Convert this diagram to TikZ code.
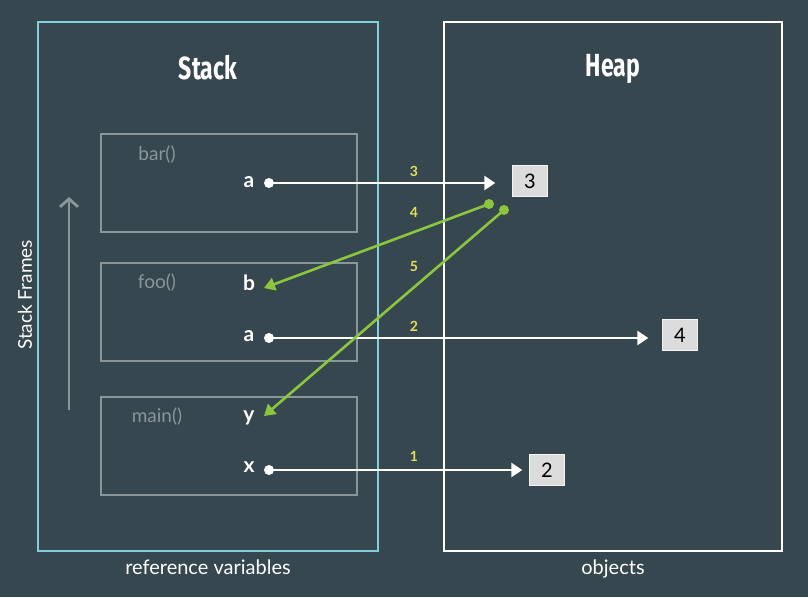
\documentclass[tikz,border=0pt]{standalone}
\usepackage{fontspec}
\setmainfont{Lato}
\newfontfamily\titlefont[FakeStretch=0.72]{Fira Sans}
\usetikzlibrary{arrows.meta}
\definecolor{bgslate}{HTML}{37474F}
\definecolor{stackcyan}{HTML}{7FD0D8}
\definecolor{framegray}{HTML}{8A9699}
\definecolor{refgreen}{HTML}{8CC63F}
\definecolor{stepyellow}{HTML}{E6DF5A}
\definecolor{objgray}{HTML}{DCDCDC}
\tikzset{
  frame/.style={draw=framegray, line width=1.6pt},
  fname/.style={text=framegray, font=\fontsize{19}{21}\selectfont},
  var/.style={text=white, font=\bfseries\fontsize{21}{23}\selectfont},
  dot/.style={circle, fill=#1, inner sep=0pt, minimum size=10pt},
  obj/.style={fill=objgray, draw=white!70!objgray, minimum width=35pt, minimum height=31pt, font=\fontsize{20}{22}\selectfont},
  order/.style={text=stepyellow, font=\bfseries\fontsize{14}{16}\selectfont},
  ptr/.style={draw=white, line width=2.6pt, -{Triangle[length=11pt,width=14pt]}},
  ref/.style={draw=refgreen, line width=2.6pt, -{Triangle[length=11pt,width=13pt]}}
}
\begin{document}
\begin{tikzpicture}[x=1pt,y=-1pt]
  \fill[bgslate] (0,0) rectangle (808,597);
  \useasboundingbox (0,0) rectangle (808,597);
  % stack and heap areas
  \draw[stackcyan, line width=2.6pt] (38,22) rectangle (378,551);
  \draw[white, line width=2pt] (444,22) rectangle (782,551);
  \node[text=white, font=\titlefont\bfseries\fontsize{32}{34}\selectfont] (stacktitle) at (208,68) {Stack};
  \node[text=white, font=\titlefont\bfseries\fontsize{32}{34}\selectfont] (heaptitle) at (613,69) {Heap};
  \node[text=white, font=\fontsize{20}{22}\selectfont] (stacknote) at (208,567) {reference variables};
  \node[text=white, font=\fontsize{20}{22}\selectfont] (heapnote) at (613,569) {objects};
  % stack frames
  \draw[frame] (101,134) rectangle (357,232);
  \draw[frame] (101,263) rectangle (357,361);
  \draw[frame] (101,397) rectangle (357,495);
  \node[fname] (barname) at (157,155) {bar()};
  \node[fname] (fooname) at (157,283) {foo()};
  \node[fname] (mainname) at (157,417) {main()};
  \node[text=white, rotate=90, font=\fontsize{19}{21}\selectfont] (frameslabel) at (25,295) {Stack Frames};
  \coordinate (growbot) at (69,410);
  \coordinate (growtop) at (69,197);
  \draw[framegray, line width=2.8pt, -{Straight Barb[length=8pt,width=18pt,line width=2.8pt]}] (growbot) -- (growtop);
  % variables
  \node[var] (bara) at (249,182) {a};
  \node[var] (foob) at (249,283) {b};
  \node[var] (fooa) at (249,336) {a};
  \node[var] (mainy) at (249,418) {y};
  \node[var] (mainx) at (249,467) {x};
  \node[dot=white] (bardot) at (269,183) {};
  \node[dot=white] (foodot) at (269,338) {};
  \node[dot=white] (maindot) at (269,470) {};
  % objects
  \node[obj] (objthree) at (530,181) {3};
  \node[obj] (objfour) at (680,335) {4};
  \node[obj] (objtwo) at (547,470) {2};
  % pointers
  \draw[ptr] (bardot.center) -- ([xshift=-17pt]objthree.west |- bardot);
  \draw[ptr] (foodot.center) -- ([xshift=-14pt]objfour.west |- foodot);
  \draw[ptr] (maindot.center) -- ([xshift=-7pt]objtwo.west |- maindot);
  \node[dot=refgreen] (greendotb) at (489,204) {};
  \node[dot=refgreen] (greendoty) at (504,210) {};
  \coordinate (btip) at (264,288);
  \coordinate (ytip) at (264,416);
  \draw[ref] (greendotb.center) -- (btip);
  \draw[ref] (greendoty.center) -- (ytip);
  % order of assignment
  \node[order] (stepone) at (414,456) {1};
  \node[order] (steptwo) at (414,326) {2};
  \node[order] (stepthree) at (414,171) {3};
  \node[order] (stepfour) at (414,212) {4};
  \node[order] (stepfive) at (414,266) {5};
\end{tikzpicture}
\end{document}
